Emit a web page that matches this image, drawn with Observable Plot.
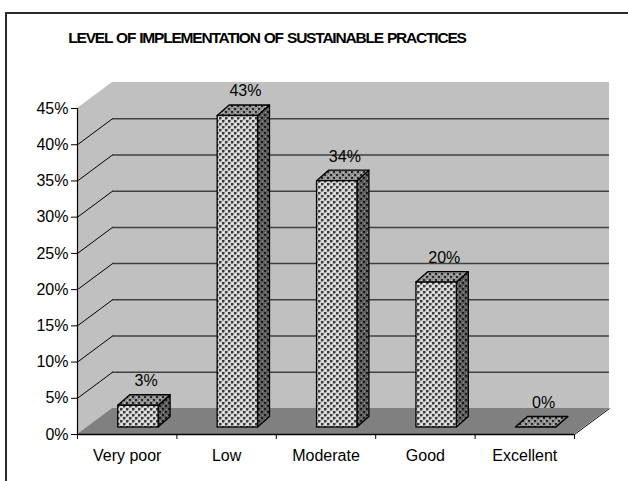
<!DOCTYPE html>
<html><head><meta charset="utf-8">
<script src="https://cdn.jsdelivr.net/npm/d3@7"></script>
<script src="https://cdn.jsdelivr.net/npm/@observablehq/plot@0.6"></script>
<style>
html,body{margin:0;padding:0;background:#fff;overflow:hidden;width:628px;height:481px}
#wrap{position:relative;width:628px;height:481px;overflow:hidden}
#frame{position:absolute;left:5px;top:12px;width:800px;height:800px;border:2px solid #2a2a2a;box-sizing:border-box}
#title{position:absolute;left:0;width:534px;top:29px;line-height:17px;text-align:center;font:bold 15.5px "Liberation Sans",Arial,sans-serif;letter-spacing:-1.2px;word-spacing:1px;color:#000}
#chart{position:absolute;left:0;top:0}
</style></head>
<body>
<svg width="0" height="0" style="position:absolute">
<defs>
<pattern id="pf" width="6" height="6" patternUnits="userSpaceOnUse">
<rect width="6" height="6" fill="#d4d4d4"/>
<rect x="0" y="0" width="2" height="2" fill="#3c3c3c"/>
<rect x="3" y="3" width="2" height="2" fill="#3c3c3c"/>
<rect x="2" y="0" width="1" height="2" fill="#8a8a8a"/>
<rect x="0" y="2" width="2" height="1" fill="#8a8a8a"/>
<rect x="5" y="3" width="1" height="2" fill="#8a8a8a"/>
<rect x="3" y="5" width="2" height="1" fill="#8a8a8a"/>
<rect x="4" y="1" width="1" height="1" fill="#f4f4f4"/>
<rect x="1" y="4" width="1" height="1" fill="#f4f4f4"/>
</pattern>
<pattern id="pt" width="6" height="6" patternUnits="userSpaceOnUse">
<rect width="6" height="6" fill="#909090"/>
<rect x="0" y="0" width="2" height="2" fill="#262626"/>
<rect x="3" y="3" width="2" height="2" fill="#262626"/>
<rect x="4" y="1" width="1" height="1" fill="#c8c8c8"/>
<rect x="1" y="4" width="1" height="1" fill="#c8c8c8"/>
</pattern>
<pattern id="ps" width="6" height="6" patternUnits="userSpaceOnUse">
<rect width="6" height="6" fill="#5e5e5e"/>
<rect x="0" y="0" width="2" height="2" fill="#1a1a1a"/>
<rect x="3" y="3" width="2" height="2" fill="#1a1a1a"/>
<rect x="4" y="1" width="1" height="1" fill="#9a9a9a"/>
<rect x="1" y="4" width="1" height="1" fill="#9a9a9a"/>
</pattern>
</defs>
</svg>
<div id="wrap">
<div id="frame"></div>
<div id="chart"></div>
<div id="title">LEVEL OF IMPLEMENTATION OF SUSTAINABLE PRACTICES</div>
</div>
<script>
const categories = ["Very poor", "Low", "Moderate", "Good", "Excellent"];
const values = [3, 43, 34, 20, 0];
const valueLabels = ["3%", "43%", "34%", "20%", "0%"];
const yTicks = [0, 5, 10, 15, 20, 25, 30, 35, 40, 45];
const gridValues = [5, 10, 15, 20, 25, 30, 35, 40];

// 3D geometry (pixel depths converted to data units)
const PX = 99.4, PY = 326 / 45;
const N = categories.length;
const yMax = 45;
const DX = 35 / PX, DY = 26 / PY;     // wall depth
const B0 = 7 / PY;                    // bar base offset (bars sit in the floor)
const BX1 = 0.41, BX2 = 0.816;        // bar front face within category
const BDX = 12 / PX, BDY = 10.5 / PY; // bar depth

const bars = values.map((v, i) => ({i, v}));
const topFace = bars.flatMap(d => [
  {i: d.i, y: B0 + d.v, x1: d.i + BX1, x2: d.i + BX2},
  {i: d.i, y: B0 + d.v + BDY, x1: d.i + BX1 + BDX, x2: d.i + BX2 + BDX}
]);
const sideFace = bars.flatMap(d => [
  {i: d.i, x: d.i + BX2, y1: B0, y2: B0 + d.v},
  {i: d.i, x: d.i + BX2 + BDX, y1: B0 + BDY, y2: B0 + d.v + BDY}
]);

const chart = Plot.plot({
  width: 628, height: 481,
  marginLeft: 77,
  marginRight: 628 - 77 - PX * (N + DX),
  marginTop: 434 - PY * (yMax + DY),
  marginBottom: 47,
  x: {domain: [0, N + DX]},
  y: {domain: [0, yMax + DY]},
  style: {fontFamily: '"Liberation Sans", Arial, sans-serif', fontSize: "16px", color: "black", background: "transparent", overflow: "visible"},
  marks: [
    Plot.rect([0], {x1: DX, x2: N + DX, y1: DY, y2: yMax + DY, fill: "#c0c0c0"}),
    Plot.areaY([{x: 0, y1: 0, y2: yMax}, {x: DX, y1: DY, y2: yMax + DY}], {x: "x", y1: "y1", y2: "y2", fill: "#c0c0c0"}),
    Plot.areaX([{y: 0, x1: 0, x2: N}, {y: DY, x1: DX, x2: N + DX}], {y: "y", x1: "x1", x2: "x2", fill: "#808080"}),
    Plot.ruleY(gridValues, {y: d => d + DY, x1: DX, x2: N + DX, stroke: "#404040", strokeWidth: 1.5}),
    Plot.link(gridValues, {x1: 0, y1: d => d, x2: DX, y2: d => d + DY, stroke: "black", strokeWidth: 1}),
    Plot.link([N], {x1: d => d, y1: 0, x2: d => d + DX, y2: DY, stroke: "black", strokeWidth: 1}),
    Plot.ruleX([0], {y1: 0, y2: yMax, stroke: "black", strokeWidth: 1.2}),
    Plot.ruleY([0], {x1: 0, x2: N, stroke: "black", strokeWidth: 1.5}),
    Plot.areaY(sideFace, {x: "x", y1: "y1", y2: "y2", z: "i", fill: "url(#ps)", stroke: "black", strokeWidth: 1.3, strokeLinejoin: "round"}),
    Plot.areaX(topFace, {y: "y", x1: "x1", x2: "x2", z: "i", fill: "url(#pt)", stroke: "black", strokeWidth: 1.3, strokeLinejoin: "round"}),
    Plot.rect(bars, {x1: d => d.i + BX1, x2: d => d.i + BX2, y1: B0, y2: d => B0 + d.v, fill: "url(#pf)", stroke: "black", strokeWidth: 1.3}),
    Plot.text(bars, {x: d => d.i + 0.69, y: d => B0 + d.v + BDY, text: d => valueLabels[d.i], lineAnchor: "bottom", dy: -9, fontSize: 16, fill: "black"}),
    Plot.axisY(yTicks, {tickFormat: d => d + "%", tickSize: 6, tickPadding: 3, label: null, fontSize: 16, stroke: "black"}),
    Plot.axisX(d3.range(N + 1), {tickFormat: () => "", tickSize: 5, label: null, stroke: "black"}),
    Plot.text(categories, {x: (d, i) => i + 0.5, y: 0, text: d => d, dy: 21, fontSize: 16, fill: "black"})
  ]
});
document.getElementById("chart").appendChild(chart);
</script>
</body></html>
